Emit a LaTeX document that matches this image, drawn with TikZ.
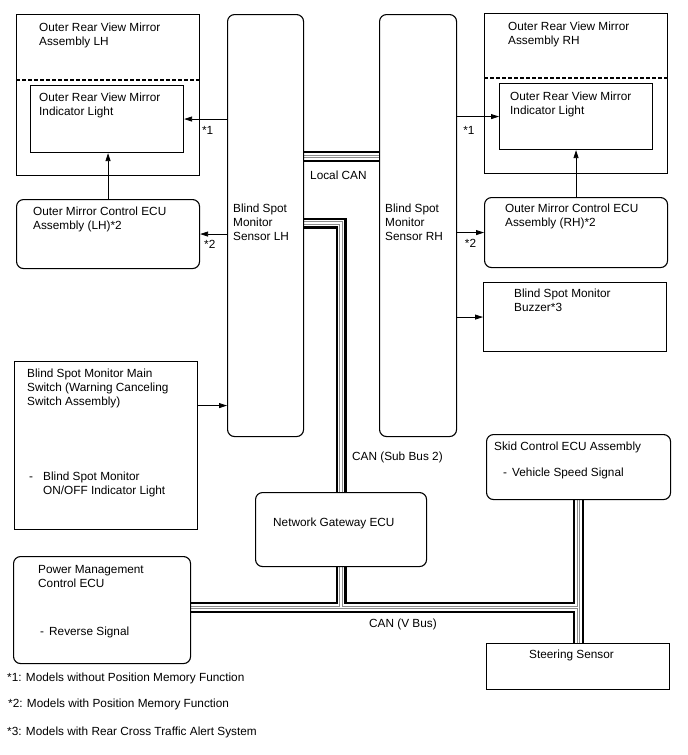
\documentclass[tikz,border=0pt]{standalone}
\usepackage{fontspec}
\setmainfont{Liberation Sans}
\usetikzlibrary{positioning,arrows.meta,backgrounds}

% CAN wire: black outline, gray twin core
\newcommand{\drawcan}[1]{%
  \draw[canouter] #1;
  \draw[caninner] #1;
  \draw[cangray] #1;
  \draw[cangap] #1;}

\begin{document}
\begin{tikzpicture}[
    x=1pt, y=-1pt,
    box/.style={rectangle, draw, line width=1.1pt, anchor=north west, inner sep=0pt},
    rbox/.style={box, rounded corners=7pt},
    txt/.style={align=left, inner sep=0pt, anchor=north west, font=\fontsize{11.8}{14}\selectfont},
    note/.style={inner sep=0pt, font=\fontsize{11.8}{14}\selectfont},
    arrow/.style={-{Triangle[length=8pt,width=5pt]}, line width=0.8pt},
    divider/.style={dash pattern=on 3.5pt off 2.5pt, line width=1.1pt},
    canouter/.style={line width=11pt, black},
    caninner/.style={line width=6.4pt, white},
    cangray/.style={line width=3.2pt, black!45},
    cangap/.style={line width=1.2pt, white}
]
\useasboundingbox (0,0) rectangle (688,755);

% Mirror LH
\node[box, minimum width=183pt, minimum height=161pt] (mirlh) at (16,14) {};
\node[box, minimum width=153pt, minimum height=67pt] (lightlh) at (30,85) {};
\draw[divider] ([yshift=-66pt]mirlh.north west) -- ([yshift=-66pt]mirlh.north east);
\node[txt, below right=9pt and 23pt of mirlh.north west] (mirlhtxt) {Outer Rear View Mirror\\Assembly LH};
\node[txt, below right=8pt and 9pt of lightlh.north west] (lightlhtxt) {Outer Rear View Mirror\\Indicator Light};

% Mirror ECU LH
\node[rbox, minimum width=183pt, minimum height=69pt] (eculh) at (16,199) {};
\node[txt, below right=8pt and 17pt of eculh.north west] (eculhtxt) {Outer Mirror Control ECU\\Assembly (LH)*2};

% Sensors
\node[rbox, minimum width=76pt, minimum height=422pt] (senlh) at (227,14) {};
\node[txt, below right=190pt and 6pt of senlh.north west] (senlhtxt) {Blind Spot\\Monitor\\Sensor LH};
\node[rbox, minimum width=77pt, minimum height=422pt] (senrh) at (379,14) {};
\node[txt, below right=190pt and 6pt of senrh.north west] (senrhtxt) {Blind Spot\\Monitor\\Sensor RH};

% Mirror RH
\node[box, minimum width=183pt, minimum height=160pt] (mirrh) at (484,13) {};
\node[box, minimum width=153pt, minimum height=66pt] (lightrh) at (499,83) {};
\draw[divider] ([yshift=-65pt]mirrh.north west) -- ([yshift=-65pt]mirrh.north east);
\node[txt, below right=9pt and 24pt of mirrh.north west] (mirrhtxt) {Outer Rear View Mirror\\Assembly RH};
\node[txt, below right=9pt and 11pt of lightrh.north west] (lightrhtxt) {Outer Rear View Mirror\\Indicator Light};

% Mirror ECU RH
\node[rbox, minimum width=183pt, minimum height=70pt] (ecurh) at (484,197) {};
\node[txt, below right=7pt and 21pt of ecurh.north west] (ecurhtxt) {Outer Mirror Control ECU\\Assembly (RH)*2};

% Buzzer
\node[box, minimum width=183pt, minimum height=69pt] (buzzer) at (483,282) {};
\node[txt, below right=7pt and 31pt of buzzer.north west] (buzzertxt) {Blind Spot Monitor\\Buzzer*3};

% Main switch
\node[box, minimum width=183pt, minimum height=168pt] (mainsw) at (14,361) {};
\node[txt, below right=8pt and 13pt of mainsw.north west] (mainswtxt) {Blind Spot Monitor Main\\Switch (Warning Canceling\\Switch Assembly)\\[61pt]
  \hspace*{2pt}\makebox[14pt][l]{-}Blind Spot Monitor\\\hspace*{16pt}ON/OFF Indicator Light};

% Gateway, skid control, power management, steering
\node[rbox, minimum width=171pt, minimum height=74pt] (gw) at (255,492) {};
\node[txt, below right=26pt and 18pt of gw.north west] (gwtxt) {Network Gateway ECU};
\node[rbox, minimum width=184pt, minimum height=65pt] (skid) at (486,434) {};
\node[txt, below right=8pt and 8pt of skid.north west] (skidtxt) {Skid Control ECU Assembly\\[12pt]\hspace*{9pt}\makebox[9pt][l]{-}Vehicle Speed Signal};
\node[rbox, minimum width=177pt, minimum height=107pt] (pwr) at (13,556) {};
\node[txt, below right=9pt and 25pt of pwr.north west] (pwrtxt) {Power Management\\Control ECU\\[34pt]\hspace*{2pt}\makebox[9pt][l]{-}Reverse Signal};
\node[box, minimum width=183pt, minimum height=46pt] (steer) at (486,643) {};
\node[txt, below right=7pt and 43pt of steer.north west] (steertxt) {Steering Sensor};

% Signal arrows
\coordinate (swout) at ([yshift=40pt]mainsw.east);
\draw[arrow] (senlh.west |- lightlh.east) -- (lightlh.east) node[note, pos=0.45, below=7pt] (n1l) {*1};
\draw[arrow] (senlh.west |- eculh.east) -- (eculh.east) node[note, pos=0.64, below=6pt] (n2l) {*2};
\draw[arrow] (eculh.north) -- (eculh.north |- lightlh.south);
\draw[arrow] (senrh.east |- lightrh.west) -- (lightrh.west) node[note, pos=0.28, below=9pt] (n1r) {*1};
\draw[arrow] (senrh.east |- ecurh.west) -- (ecurh.west) node[note, pos=0.5, below=6pt] (n2r) {*2};
\draw[arrow] (ecurh.north) -- (ecurh.north |- lightrh.south);
\draw[arrow] (senrh.east |- buzzer.west) -- (buzzer.west);
\draw[arrow] (swout) -- (senlh.west |- swout);

% CAN lines
\coordinate (lcan) at (0,156.5);
\coordinate (sbus) at (0,223);
\coordinate (vbus) at (0,607.5);
\begin{scope}[on background layer]
\drawcan{(senlh.east |- lcan) -- (senrh.west |- lcan)
  (senlh.east |- sbus) -| (gw.north)
  (gw.south) -- (gw.south |- vbus)
  (pwr.east |- vbus) -- (skid.south |- vbus)
  (skid.south) -- (skid.south |- steer.north)}
\end{scope}
\node[txt] (lcantxt) at (310,171) {Local CAN};
\node[txt] (sbustxt) at (352,452) {CAN (Sub Bus 2)};
\node[txt] (vbustxt) at (369,619) {CAN (V Bus)};

% Notes
\node[txt] (foot1) at (7,673) {*1: Models without Position Memory Function};
\node[txt] (foot2) at (8,699) {*2: Models with Position Memory Function};
\node[txt] (foot3) at (7,727) {*3: Models with Rear Cross Traffic Alert System};

\end{tikzpicture}
\end{document}
